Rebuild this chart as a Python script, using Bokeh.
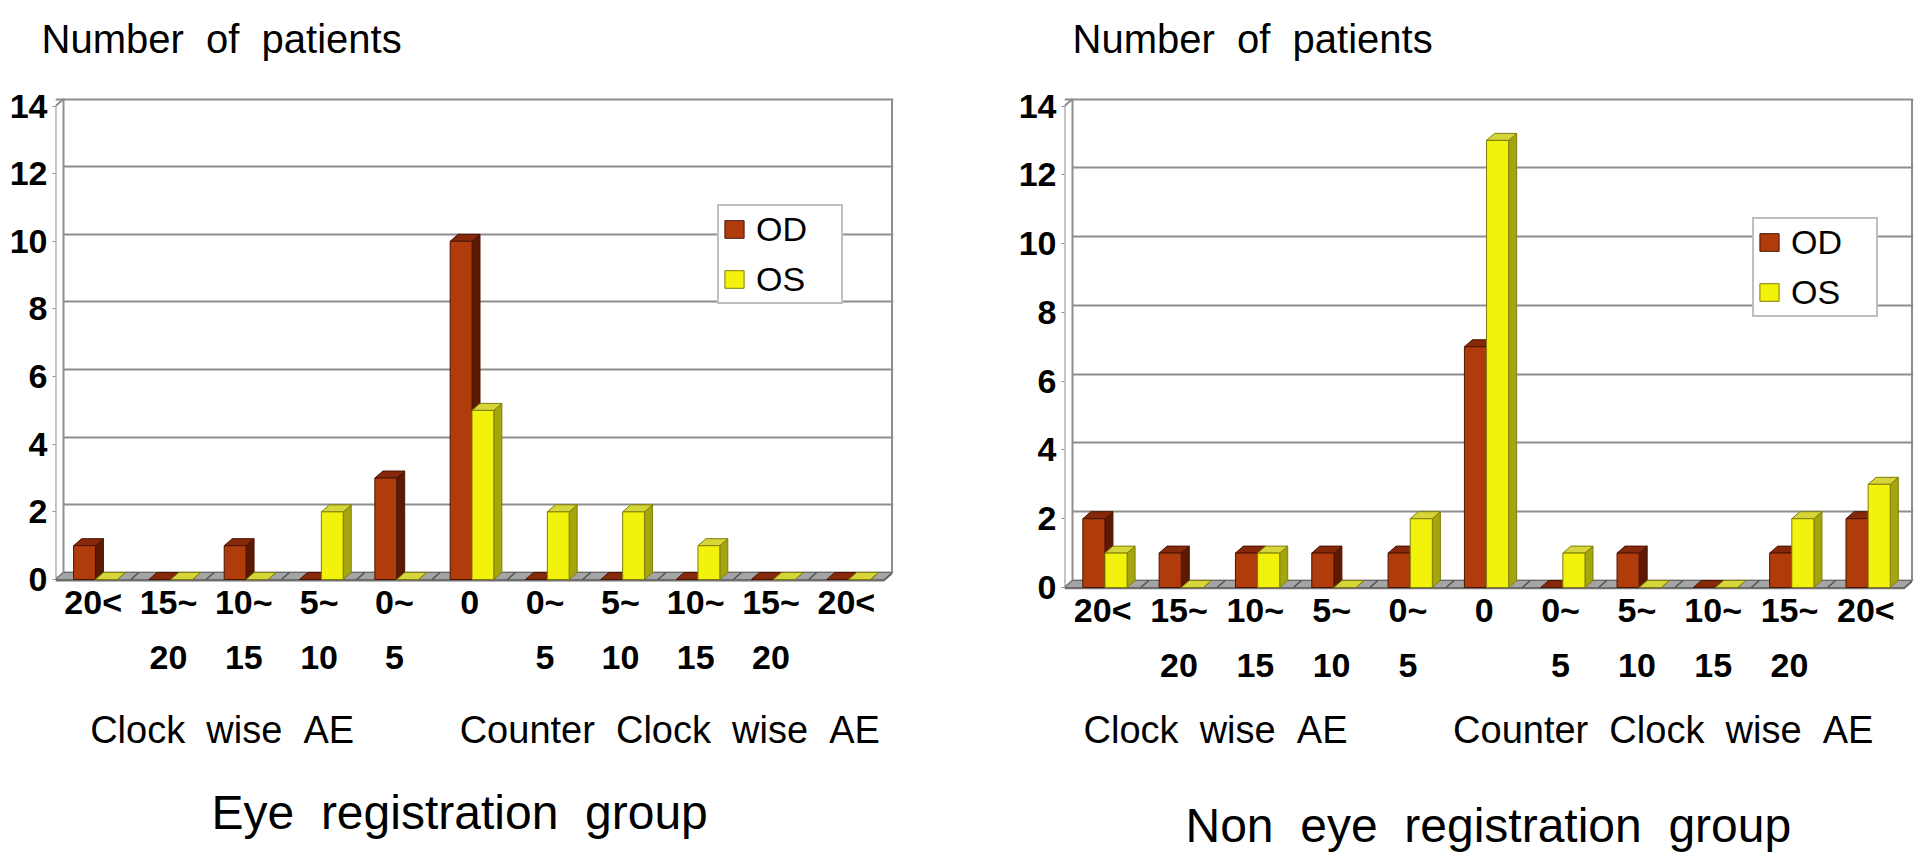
from bokeh.plotting import figure
from bokeh.models import (FixedTicker, Legend, LegendItem, Title, Range1d, LinearAxis)
from bokeh.layouts import row
from bokeh.embed import file_html
from bokeh.resources import INLINE

# ---------------- data ----------------
x_labels = ["20<", "15~\n20", "10~\n15", "5~\n10", "0~\n5", "0",
            "0~\n5", "5~\n10", "10~\n15", "15~\n20", "20<"]
y_ticks = [0, 2, 4, 6, 8, 10, 12, 14]
series_names = ["OD", "OS"]

eye_od = [1, 0, 1, 0, 3, 10, 0, 0, 0, 0, 0]
eye_os = [0, 0, 0, 2, 0, 5, 2, 2, 1, 0, 0]
non_od = [2, 1, 1, 1, 1, 7, 0, 1, 0, 1, 2]
non_os = [1, 0, 1, 0, 2, 13, 1, 0, 0, 2, 3]

y_title = "Number of patients"
left_group_title = "Eye registration group"
right_group_title = "Non eye registration group"
cw_label = "Clock wise AE"
ccw_label = "Counter Clock wise AE"

# ---------------- style ----------------
FONT = "Liberation Sans"
NB = "\u00a0"
GRID = "#8E8E8E"
STYLE = {
    "OD": dict(front="#B03C0C", top="#86290A", side="#5C1A04", line="#4A1402", off=(-0.26, 0.03)),
    "OS": dict(front="#F2F20C", top="#D6D63A", side="#A5A510", line="#7E7E08", off=(0.03, 0.32)),
}

HEIGHT = 862
B_TOP = 97
B_BOTTOM = 273


def wide(s, n=2):
    return (" " + NB * (n - 1)).join(s.split(" "))


def spacer(size):
    return Title(text=NB, text_font_size="1px", standoff=size, text_color="white")


def make_chart(od, os_, group_title, width, b_left, b_right, extra_px,
               legend_loc, top_offset, bottom_offset, lead, trail,
               tick_standoff, label_standoff, bottom_gap, top_gap):
    frame_w = width - b_left - b_right
    frame_h = HEIGHT - B_TOP - B_BOTTOM
    n = len(x_labels)
    dxp, dyp, slab, edge = 8, 7, 2, 1.5
    ppc = (frame_w - dxp - edge) / n
    dx = dxp / ppc
    ytop = y_ticks[-1]
    ppu = (frame_h - dyp - slab - extra_px - edge) / ytop
    dy = dyp / ppu
    yfloor = -(dyp + slab) / ppu
    y0 = -(dyp + slab + extra_px) / ppu
    x0, x1 = -0.5, n - 0.5

    p = figure(width=width, height=HEIGHT,
               x_range=Range1d(x0, x1 + dx + edge / ppc),
               y_range=Range1d(y0, ytop + edge / ppu), output_backend="svg",
               toolbar_location=None, title=None, y_axis_location=None,
               min_border_left=b_left, min_border_right=b_right,
               min_border_top=B_TOP, min_border_bottom=B_BOTTOM)
    p.background_fill_color = "white"
    p.border_fill_color = "white"
    p.outline_line_color = None
    p.xgrid.visible = False
    p.ygrid.ticker = FixedTicker(ticks=y_ticks)
    p.ygrid.grid_line_color = GRID
    p.ygrid.grid_line_width = 2

    # front y axis (labels sit on the front edge of the left wall)
    p.extra_y_ranges = {"front": Range1d(y0 + dy, ytop + edge / ppu + dy)}
    yax = LinearAxis(y_range_name="front", ticker=FixedTicker(ticks=y_ticks))
    yax.axis_line_color = None
    yax.major_tick_out = 3
    yax.major_tick_in = 0
    yax.major_tick_line_color = GRID
    yax.minor_tick_line_color = None
    yax.major_label_standoff = 5
    yax.major_label_text_font = FONT
    yax.major_label_text_font_size = "34px"
    yax.major_label_text_font_style = "bold"
    yax.major_label_text_color = "black"
    p.add_layout(yax, "left")

    # x axis
    xax = p.xaxis[0]
    xax.ticker = FixedTicker(ticks=list(range(n)))
    xax.major_label_overrides = {i: lab for i, lab in enumerate(x_labels)}
    xax.axis_line_color = None
    xax.major_tick_line_color = None
    xax.minor_tick_line_color = None
    xax.major_tick_out = 0
    xax.major_label_standoff = tick_standoff
    xax.major_label_text_font = FONT
    xax.major_label_text_font_size = "34px"
    xax.major_label_text_font_style = "bold"
    xax.major_label_text_color = "black"
    xax.major_label_text_line_height = 1.45
    xax.axis_label = (NB * lead + wide(cw_label) + " " + NB * 9 + wide(ccw_label) + NB * trail)
    xax.axis_label_text_font = FONT
    xax.axis_label_text_font_size = "38px"
    xax.axis_label_text_font_style = "normal"
    xax.axis_label_text_color = "black"
    xax.axis_label_standoff = label_standoff

    # back wall right edge
    p.segment(x0=[x1 + dx], y0=[0], x1=[x1 + dx], y1=[ytop],
              line_color=GRID, line_width=2)
    # left wall
    p.patch([x0, x0 + dx, x0 + dx, x0], [-dy, 0, ytop, ytop - dy],
            fill_color="white", line_color=GRID, line_width=2)
    # floor
    p.quad(left=[x0], right=[x1], top=[-dy], bottom=[yfloor],
           fill_color="#707070", line_color=None)
    p.patch([x0, x1, x1 + dx, x0 + dx], [-dy, -dy, 0, 0],
            fill_color="#A4A4A4", line_color="#6A6A6A", line_width=1)
    p.patch([x1, x1 + dx, x1 + dx, x1], [-dy, 0, yfloor + dy, yfloor],
            fill_color="#5A5A5A", line_color=None)
    seps = [k + 0.5 for k in range(n - 1)]
    p.segment(x0=seps, y0=[-dy] * len(seps), x1=[s + dx for s in seps],
              y1=[0] * len(seps), line_color="#505050", line_width=1.5)

    renderers = {}
    for name, vals in zip(series_names, [od, os_]):
        st = STYLE[name]
        lo, hi = st["off"]
        L = [i + lo for i in range(n)]
        R = [i + hi for i in range(n)]
        p.patches([[r, r + dx, r + dx, r] for r in R],
                  [[-dy, 0, v, v - dy] for v in vals],
                  fill_color=st["side"], line_color=st["line"], line_width=1)
        p.patches([[l, r, r + dx, l + dx] for l, r in zip(L, R)],
                  [[v - dy, v - dy, v, v] for v in vals],
                  fill_color=st["top"], line_color=st["line"], line_width=1)
        renderers[name] = p.quad(left=L, right=R, bottom=[-dy] * n,
                                 top=[v - dy for v in vals],
                                 fill_color=st["front"], line_color=st["line"],
                                 line_width=1)

    legend = Legend(items=[LegendItem(label=nm, renderers=[renderers[nm]]) for nm in series_names],
                    location=legend_loc)
    legend.glyph_width = 24
    legend.glyph_height = 22
    legend.label_text_font = FONT
    legend.label_text_font_size = "34px"
    legend.label_text_color = "black"
    legend.label_standoff = 10
    legend.label_width = 82
    legend.label_height = 40
    legend.padding = 3
    legend.spacing = 10
    legend.margin = 0
    legend.border_line_color = "#808080"
    legend.border_line_width = 2
    legend.background_fill_alpha = 1.0
    p.add_layout(legend)

    # titles: spacer nearest to the frame, then the text
    p.add_layout(spacer(top_gap), "above")
    p.add_layout(Title(text=wide(y_title), align="left", offset=top_offset,
                       text_font=FONT, text_font_size="40px", text_font_style="normal",
                       text_color="black", standoff=4), "above")
    p.add_layout(spacer(bottom_gap), "below")
    p.add_layout(Title(text=wide(group_title), align="left", offset=bottom_offset,
                       text_font=FONT, text_font_size="48px", text_font_style="normal",
                       text_color="black", standoff=2), "below")
    return p


left = make_chart(eye_od, eye_os, left_group_title, width=960, b_left=55, b_right=67,
                  extra_px=8, legend_loc=(662, 285),
                  top_offset=-14, bottom_offset=156, lead=2, trail=0,
                  tick_standoff=-7, label_standoff=30, bottom_gap=26, top_gap=32)
right = make_chart(non_od, non_os, right_group_title, width=961, b_left=104, b_right=8,
                   extra_px=0, legend_loc=(688, 272),
                   top_offset=8, bottom_offset=121, lead=0, trail=2,
                   tick_standoff=1, label_standoff=22, bottom_gap=39, top_gap=32)

layout = row(left, right)
open("out.html", "w").write(file_html(layout, INLINE))
